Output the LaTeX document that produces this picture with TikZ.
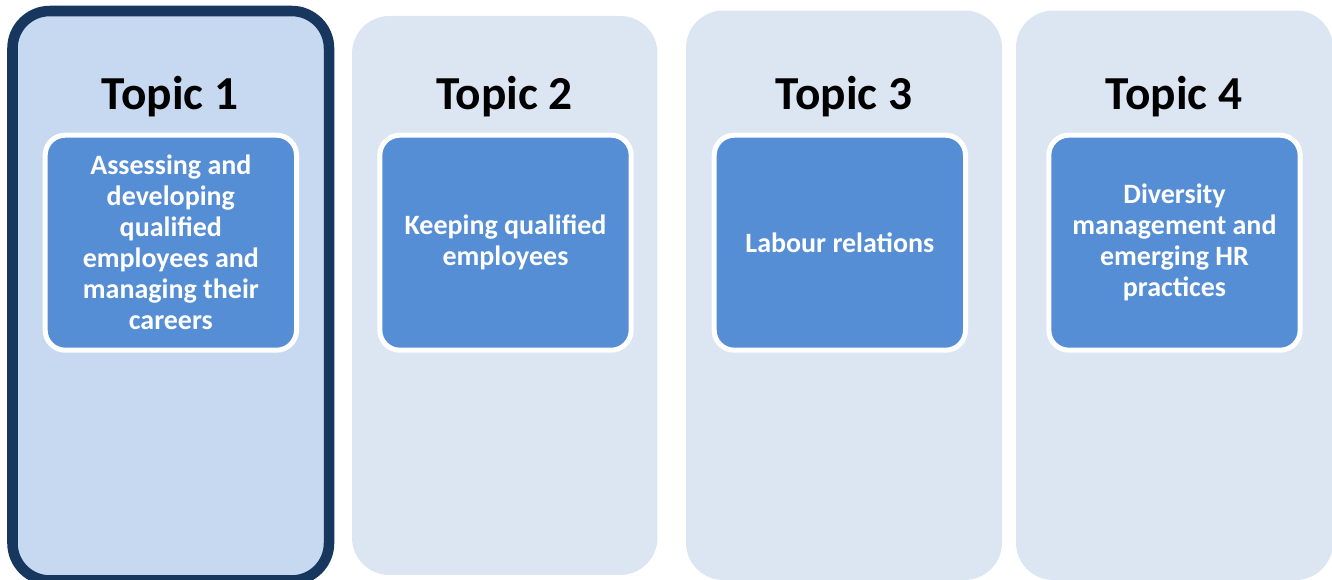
\documentclass[tikz,border=0pt]{standalone}
\usepackage{fontspec}
\setmainfont{Carlito}
\definecolor{navy}{HTML}{17375E}
\definecolor{panelsel}{HTML}{C6D9F1}
\definecolor{panelfill}{HTML}{DCE6F2}
\definecolor{boxblue}{HTML}{558ED5}
\begin{document}
\begin{tikzpicture}[x=0.75pt,y=-0.75pt,
  panel/.style={rounded corners=28pt,inner sep=0pt,outer sep=0pt,fill=panelfill,draw=none},
  selected/.style={fill=panelsel,draw=navy,line width=7.9pt},
  topicbox/.style={rounded corners=15pt,inner sep=0pt,outer sep=0pt,fill=boxblue,draw=white,
    line width=3.75pt,minimum width=188.5pt,minimum height=161.25pt},
  topictitle/.style={anchor=base,font=\bfseries\fontsize{35.5}{40}\selectfont,text=black},
  topictext/.style={align=center,text=white,font=\bfseries\fontsize{21}{23.25}\selectfont}]
\useasboundingbox (0,0) rectangle (1332,580);

% background panels
\node[panel,selected,minimum width=237.4pt,minimum height=427.1pt] (p1) at (170.75,295.75) {};
\node[panel,minimum width=229.1pt,minimum height=419.25pt] (p2) at (504.75,295.5) {};
\node[panel,minimum width=237pt,minimum height=427.1pt] (p3) at (844,295.25) {};
\node[panel,minimum width=237.75pt,minimum height=427.1pt] (p4) at (1174.5,295.25) {};

% titles
\node[topictitle] (t1) at (170,110) {Topic 1};
\node[topictitle] (t2) at (504.5,110) {Topic 2};
\node[topictitle] (t3) at (844,110) {Topic 3};
\node[topictitle] (t4) at (1174,110) {Topic 4};

% topic boxes
\node[topicbox] (b1) at (170.85,242.7) {};
\node[topicbox] (b2) at (505.5,242.7) {};
\node[topicbox] (b3) at (839.85,242.7) {};
\node[topicbox] (b4) at (1174.5,242.7) {};

\node[topictext] (l1) at (b1.center) {Assessing and\\developing\\qualified\\employees and\\managing their\\careers};
\node[topictext] (l2) at (b2.center) {Keeping qualified\\employees};
\node[topictext] (l3) at (b3.center) {Labour relations};
\node[topictext] (l4) at (b4.center) {Diversity\\management and\\emerging HR\\practices};
\end{tikzpicture}
\end{document}
